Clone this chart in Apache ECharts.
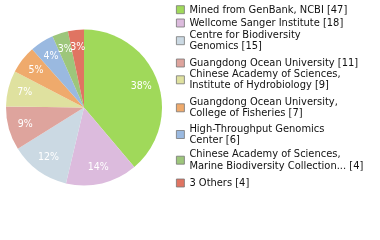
<!DOCTYPE html>
<html><head><meta charset="utf-8">
<script src="https://cdn.jsdelivr.net/npm/echarts@6/dist/echarts.min.js"></script>
<style>html,body{margin:0;padding:0;background:#fff}#c{width:380px;height:240px}</style>
</head><body><div id="c"></div>
<script>
const names = ["Mined from GenBank, NCBI", "Wellcome Sanger Institute", "Centre for Biodiversity Genomics", "Guangdong Ocean University", "Chinese Academy of Sciences, Institute of Hydrobiology", "Guangdong Ocean University, College of Fisheries", "High-Throughput Genomics Center", "Chinese Academy of Sciences, Marine Biodiversity Collection...", "3 Others"];
const legendLines = [["Mined from GenBank, NCBI [47]"], ["Wellcome Sanger Institute [18]"], ["Centre for Biodiversity", "Genomics [15]"], ["Guangdong Ocean University [11]"], ["Chinese Academy of Sciences,", "Institute of Hydrobiology [9]"], ["Guangdong Ocean University,", "College of Fisheries [7]"], ["High-Throughput Genomics", "Center [6]"], ["Chinese Academy of Sciences,", "Marine Biodiversity Collection... [4]"], ["3 Others [4]"]];
const values = [47, 18, 15, 11, 9, 7, 6, 4, 4];
const colors = ["#a0d95a", "#dcbbdd", "#cbd9e3", "#dea49d", "#dfe19f", "#efaa6c", "#9ab9e0", "#9dc67b", "#e07462"];

// layout: vertical centre of each legend entry (px)
const legendCentres = [9.7, 23, 40.7, 63, 79.8, 107.8, 134.5, 160.2, 183];
const LH = 11.5;
const FONT = "'DejaVu Sans Condensed', 'DejaVu Sans', sans-serif";

const data = names.map((n, i) => ({name: n, value: values[i], itemStyle: {color: colors[i]}}));
const total = values.reduce((a, b) => a + b, 0);
const chart = echarts.init(document.getElementById('c'), null, {renderer: 'canvas'});
const legends = names.map((n, i) => ({
  orient: 'vertical', left: 176, top: legendCentres[i] - legendLines[i].length * LH / 2,
  itemWidth: 8, itemHeight: 8, itemGap: 0, icon: 'rect', padding: 0,
  selectedMode: false,
  itemStyle: {borderColor: '#777', borderWidth: 0.8},
  textStyle: {fontFamily: FONT, fontSize: 11, color: '#111', lineHeight: LH, padding: 0},
  formatter: nm => legendLines[names.indexOf(nm)].join('\n'),
  data: [n]
}));
chart.setOption({
  animation: false,
  legend: legends,
  series: [{
    type: 'pie', center: [84, 107.5], radius: [0, 78], startAngle: 90, clockwise: true,
    label: {show: false}, labelLine: {show: false}, silent: true,
    data: data
  }, {
    type: 'pie', center: [84, 107.5], radius: [0, 116], startAngle: 90, clockwise: true,
    silent: true, legendHoverLink: false, avoidLabelOverlap: false,
    itemStyle: {color: 'rgba(0,0,0,0)'},
    label: {show: true, position: 'inside', color: '#fff', fontFamily: FONT, fontSize: 10.5,
      formatter: p => Math.floor(p.value / total * 100) + '%'},
    labelLayout: {hideOverlap: false},
    labelLine: {show: false},
    data: names.map((n, i) => ({name: n + ' ', value: values[i]}))
  }]
});
</script></body></html>
